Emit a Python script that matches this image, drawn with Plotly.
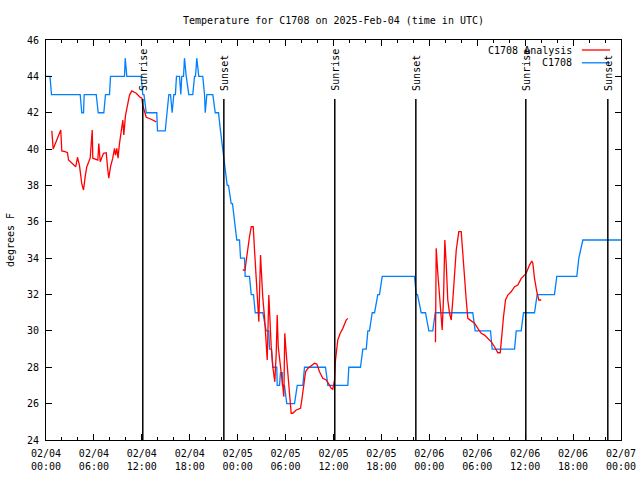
import datetime as dt
import plotly.graph_objects as go

BASE = dt.datetime(2025, 2, 4, 0, 0)

# Observations (C1708): hours since 02/04 00:00 UTC, degrees F
obs_hours = [0, 0.5, 0.69, 4.28, 4.48, 4.70, 4.78, 6.29, 6.54, 7.24, 7.45, 7.95, 8.08, 9.83, 9.92, 10.12,
             11.92, 12.12, 12.27, 12.55, 13.87, 13.96, 14.93, 15.13, 15.38, 15.59, 15.8, 16.0, 16.2, 16.34,
             16.72, 16.88, 17.0, 17.22, 17.34, 17.56, 17.88, 18.38, 18.6, 18.72, 18.88, 19.13, 19.63, 19.85,
             19.94, 20.14, 20.89, 21.19, 21.6, 21.85, 22.14, 22.39, 22.69, 22.85, 23.19, 23.35, 23.6, 23.89,
             24.23, 24.36, 24.86, 24.94, 25.48, 25.7, 25.98, 26.2, 27.15, 27.57, 27.9, 27.99, 28.24, 28.4,
             28.9, 28.95, 29.24, 29.36, 29.58, 29.61, 29.86, 30.15, 31.12, 31.46, 32.16, 32.37, 35.0, 35.29,
             37.79, 37.92, 39.38, 39.67, 40.1, 40.3, 40.5, 40.85, 41.14, 41.55, 41.76, 42.1, 46.14, 46.36,
             46.52, 46.98, 47.52, 47.94, 48.43, 48.74, 53.44, 53.74, 55.66, 55.87, 58.67, 58.88, 59.5, 59.79,
             61.17, 61.5, 63.67, 63.96, 66.47, 66.72, 67.22, 72.0]
obs_temps = [44, 44, 43, 43, 42, 42, 43, 43, 42, 42, 43, 43, 44, 44, 45, 44,
             44, 43, 43, 42, 42, 41, 41, 42, 43, 43, 42, 43, 43, 44,
             44, 43, 44, 44, 45, 44, 43, 43, 44, 44, 45, 44, 44, 43,
             42, 43, 43, 42, 42, 41, 40, 39, 38, 38, 37, 37, 36, 35,
             35, 34, 34, 33, 33, 32, 32, 31, 31, 30, 30, 29, 29, 28,
             28, 27, 27, 27.7, 27.7, 27, 27, 26, 26, 27, 27, 28, 28, 27,
             27, 28, 28, 29, 29, 30, 30, 31, 31, 32, 32, 33, 33, 32,
             32, 31, 31, 30, 30, 31, 31, 30, 30, 29, 29, 30, 30, 31,
             31, 32, 32, 33, 33, 34, 35, 35]

# Analysis (C1708 Analysis): three segments separated by gaps (None)
ana_hours = [0.73, 0.90, 1.85, 1.98, 2.40, 2.69, 2.82, 3.73, 3.94, 4.19, 4.48, 4.70, 4.91, 5.11, 5.53, 5.79,
             5.86, 6.49, 6.61, 6.79, 7.20, 7.54, 7.74, 7.86, 8.08, 8.36, 8.58, 8.70, 8.87, 9.02, 9.20, 9.42,
             9.62, 9.74, 9.96, 10.17, 10.46, 10.74, 11.30, 11.71, 12.00, 12.12, 12.55, 13.17, 13.80,
             None,
             24.64, 24.92, 25.14, 25.27, 25.48, 25.70, 25.95, 26.11, 26.32, 26.52, 26.65, 26.86, 27.02, 27.15,
             27.36, 27.57, 27.70, 27.90, 27.99, 28.20, 28.40, 28.65, 28.83, 28.95, 29.08, 29.24, 29.45, 29.65,
             29.78, 29.90, 30.08, 30.28, 30.49, 30.70, 30.90, 31.33, 31.87, 32.03, 32.24, 32.50, 32.78, 33.21,
             33.62, 33.91, 34.25, 34.66, 35.09, 35.50, 35.71, 35.91, 36.13, 36.25, 36.41, 36.54, 36.84, 37.17,
             37.59, 37.79,
             None,
             48.77, 48.86, 49.06, 49.27, 49.49, 49.61, 49.78, 49.94, 50.11, 50.31, 50.53, 50.74, 50.94, 51.15,
             51.37, 51.69, 51.99, 52.19, 52.41, 52.62, 52.82, 53.24, 53.66, 54.07, 54.50, 54.91, 55.32, 55.75,
             56.16, 56.58, 56.88, 57.08, 57.29, 57.54, 57.83, 58.25, 58.67, 59.08, 59.51, 59.92, 60.13, 60.54,
             60.83, 60.96, 61.17, 61.46, 61.71, 62.01]
ana_temps = [41.0, 40.0, 41.05, 39.9, 39.86, 39.8, 39.4, 39.03, 39.55, 39.1, 38.1, 37.75, 38.5, 39.03, 39.5, 41.05,
             39.5, 39.4, 40.3, 39.3, 39.77, 39.8, 38.85, 38.4, 39.03, 39.5, 40.04, 39.67, 40.04, 39.5, 40.3, 41.05,
             41.6, 40.78, 41.87, 42.33, 42.97, 43.2, 43.07, 42.88, 42.8, 42.4, 41.75, 41.64, 41.5,
             None,
             33.35, 33.35, 34.08, 34.63, 35.18, 35.73, 35.73, 34.45, 32.7, 31.8, 30.5, 34.17, 32.7, 31.8,
             30.78, 28.77, 28.4, 31.97, 30.78, 29.13, 28.03, 27.2, 28.77, 30.87, 29.13, 28.4, 27.48, 26.93,
             26.38, 29.87, 28.77, 27.48, 26.57, 25.47, 25.47, 25.65, 25.74, 26.2, 26.93, 27.75, 27.94, 28.07,
             28.22, 28.18, 27.75, 27.39, 27.3, 27.02, 26.84, 26.79, 27.3, 28.4, 28.95, 29.5, 29.87, 30.14,
             30.6, 30.69,
             None,
             29.37, 34.54, 33.17, 31.88, 30.6, 30.05, 31.88, 35.0, 33.72, 31.7, 30.97, 30.6, 31.7, 33.35,
             34.45, 35.46, 35.46, 34.27, 32.8, 31.7, 30.69, 30.56, 30.42, 30.14, 29.87, 29.77, 29.59, 29.4,
             29.13, 28.8, 28.8, 29.87, 30.78, 31.7, 31.97, 32.15, 32.43, 32.52, 32.89, 33.07, 33.17, 33.62,
             33.84, 33.72, 32.89, 32.15, 31.7, 31.7]

# Sun events (hours since 02/04 00:00 UTC)
sun_hours = [12.12, 22.27, 36.16, 46.31, 60.08, 70.35]
sun_labels = ["Sunrise", "Sunset", "Sunrise", "Sunset", "Sunrise", "Sunset"]
sun_line_top = 42.75

y_ticks = list(range(24, 47, 2))

title_text = "Temperature for C1708 on 2025-Feb-04 (time in UTC)"
legend_names = ["C1708 Analysis", "C1708"]
colors = {"C1708 Analysis": "#ff0000", "C1708": "#0080ff"}

FONT = "DejaVu Sans Mono"


def to_dt(h):
    return None if h is None else BASE + dt.timedelta(hours=h)


fig = go.Figure()
fig.add_trace(go.Scatter(x=[to_dt(h) for h in obs_hours], y=obs_temps, mode="lines",
                         line=dict(color=colors["C1708"], width=1.3), name="C1708",
                         showlegend=False, connectgaps=False))
fig.add_trace(go.Scatter(x=[to_dt(h) for h in ana_hours], y=ana_temps, mode="lines",
                         line=dict(color=colors["C1708 Analysis"], width=1.3), name="C1708 Analysis",
                         showlegend=False, connectgaps=False))

for h, lab in zip(sun_hours, sun_labels):
    t = to_dt(h)
    fig.add_shape(type="line", xref="x", yref="y", x0=t, x1=t, y0=24, y1=sun_line_top,
                  line=dict(color="black", width=1.5))
    fig.add_annotation(x=t, y=sun_line_top, xref="x", yref="y", text=lab, textangle=-90,
                       showarrow=False, xanchor="center", yanchor="bottom", yshift=6,
                       font=dict(family=FONT, size=10, color="black"))

# legend drawn manually (gnuplot style: text right-aligned, sample line on right)
leg_rows = [0.975, 0.943]
for name, yy in zip(legend_names, leg_rows):
    fig.add_annotation(x=0.918, y=yy, xref="paper", yref="paper", text=name, showarrow=False,
                       xanchor="right", yanchor="middle", font=dict(family=FONT, size=10, color="black"))
    fig.add_shape(type="line", xref="paper", yref="paper", x0=0.932, x1=0.981, y0=yy, y1=yy,
                  line=dict(color=colors[name], width=1.3))

fig.update_layout(
    width=640, height=480,
    margin=dict(l=46, r=19, t=40, b=40, autoexpand=False),
    paper_bgcolor="white", plot_bgcolor="white",
    font=dict(family=FONT, size=10, color="black"),
    title=dict(text=title_text, x=(46 + 621) / 2 / 640, xanchor="center", y=1 - 20 / 480,
               yanchor="middle", font=dict(family=FONT, size=10, color="black")),
    showlegend=False,
)
fig.update_xaxes(
    type="date", range=[BASE, BASE + dt.timedelta(hours=72)], automargin=False,
    dtick=6 * 3600 * 1000, tick0=BASE, tickformat="%m/%d<br>%H:%M",
    ticks="inside", ticklen=6, tickcolor="black", tickwidth=1,
    minor=dict(dtick=2 * 3600 * 1000, ticks="inside", ticklen=3, tickcolor="black", showgrid=False),
    showgrid=False, zeroline=False, showline=True, linecolor="black", linewidth=1, mirror="allticks",
    ticklabelstandoff=4,
    tickfont=dict(family=FONT, size=10),
)
fig.update_yaxes(
    range=[24, 46], tickvals=y_ticks, ticks="inside", ticklen=6, tickcolor="black", automargin=False,
    showgrid=False, zeroline=False, showline=True, linecolor="black", linewidth=1, mirror="allticks",
    ticklabelstandoff=4,
    title=dict(text="degrees F", standoff=10, font=dict(family=FONT, size=10)),
    tickfont=dict(family=FONT, size=10),
)

fig.write_html("out.html", config={"displayModeBar": False},
               post_script="document.body.style.margin='0';")
